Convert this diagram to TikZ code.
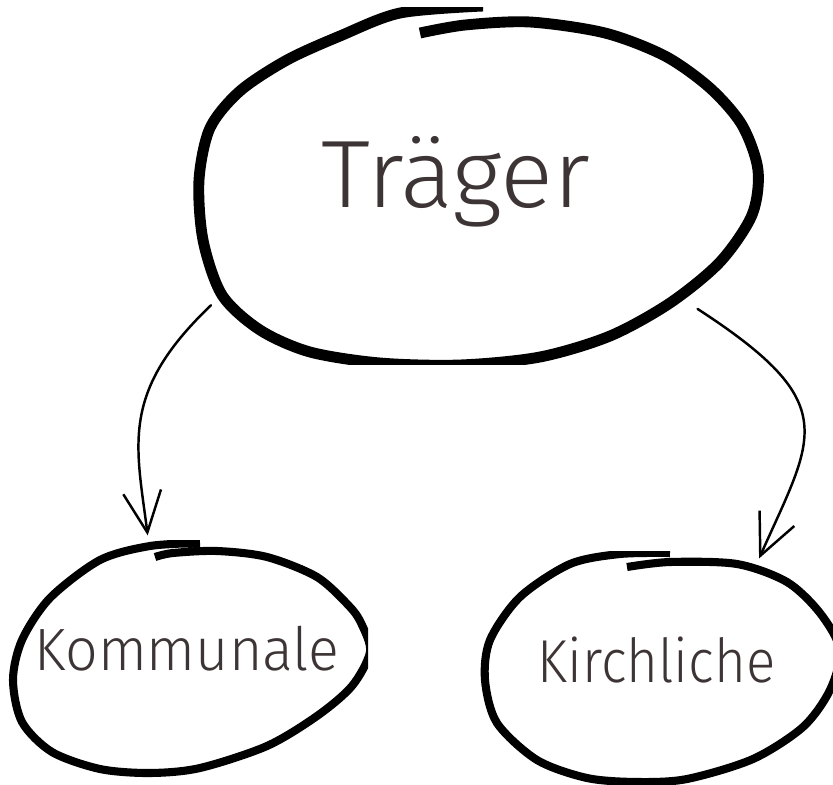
\documentclass[tikz,border=0pt]{standalone}
\usepackage{fontspec}
\setmainfont{Fira Sans}[UprightFont={* Light}]
\usetikzlibrary{shapes.geometric,arrows.meta}
\definecolor{schrift}{HTML}{3D3535}
\tikzset{
	blase/.style={ellipse,inner sep=0pt,outer sep=0pt,text=schrift},
	pinsel/.style={line width=#1,line join=round},
	pfeil/.style={line width=1.4pt,line cap=round,-{Straight Barb[length=0.82cm,width=0.76cm]}}
}
\begin{document}
\begin{tikzpicture}[x=0.02cm,y=-0.02cm]
		\useasboundingbox (0,0) rectangle (833,785);
		\node[blase,minimum width=12cm,minimum height=9.04cm,text height=1.32cm,text depth=0pt,font=\fontsize{54.5}{60}\selectfont](traeger) at (456,175) {\scalebox{1.03}[1]{Träger}};
		\node[blase,minimum width=8.8cm,minimum height=4.64cm,text height=0.82cm,text depth=0pt,font=\fontsize{34}{40}\selectfont](kommunale) at (187,649.5) {\scalebox{0.96}[1]{Kommunale}};
		\node[blase,minimum width=8.8cm,minimum height=4.64cm,text height=0.84cm,text depth=0pt,font=\fontsize{34.5}{40}\selectfont](kirchliche) at (656.5,661) {\scalebox{0.9}[1]{Kirchliche}};
		% Umrisse, von Hand gezogen
		\begin{scope}
		\clip (0,7) rectangle (833,364);
		\draw[pinsel=6.2pt] plot[smooth] coordinates {(483,6) (400,13) (340,36) (287,60) (240,91) (210,128) (199,180) (203,240) (222,295) (260,330) (310,352) (380,363) (460,365) (540,357) (610,336) (670,303) (720,262) (752,215) (758,170) (742,125) (710,88) (665,56) (605,33) (530,22) (465,25) (420,33)};
		\end{scope}
		\begin{scope}
		\clip (0,540) rectangle (368,785);
		\draw[pinsel=4.6pt] plot[smooth] coordinates {(200,543) (150,546) (100,560) (50,598) (22,640) (13,680) (22,722) (52,752) (100,769) (150,773) (200,768) (267,746) (317,716) (352,686) (370,652) (362,625) (350,607) (317,577) (267,557) (217,551) (173,553) (155,557)};
		\end{scope}
		\begin{scope}
		\clip (0,551) rectangle (833,785);
		\draw[pinsel=4.6pt] plot[smooth] coordinates {(670,553) (620,554) (570,564) (520,597) (490,640) (485,680) (497,723) (537,760) (587,778) (637,782) (687,779) (753,759) (803,727) (830,690) (840,650) (820,613) (787,582) (737,564) (670,562) (627,567)};
		\end{scope}
		\draw[pfeil] (traeger.208.1) .. controls (120,392) and (136,444) .. (kommunale.109.4);
		\draw[pfeil] (traeger.331.7) .. controls (844,404) and (814,435) .. (kirchliche.45.7);
\end{tikzpicture}
\end{document}
